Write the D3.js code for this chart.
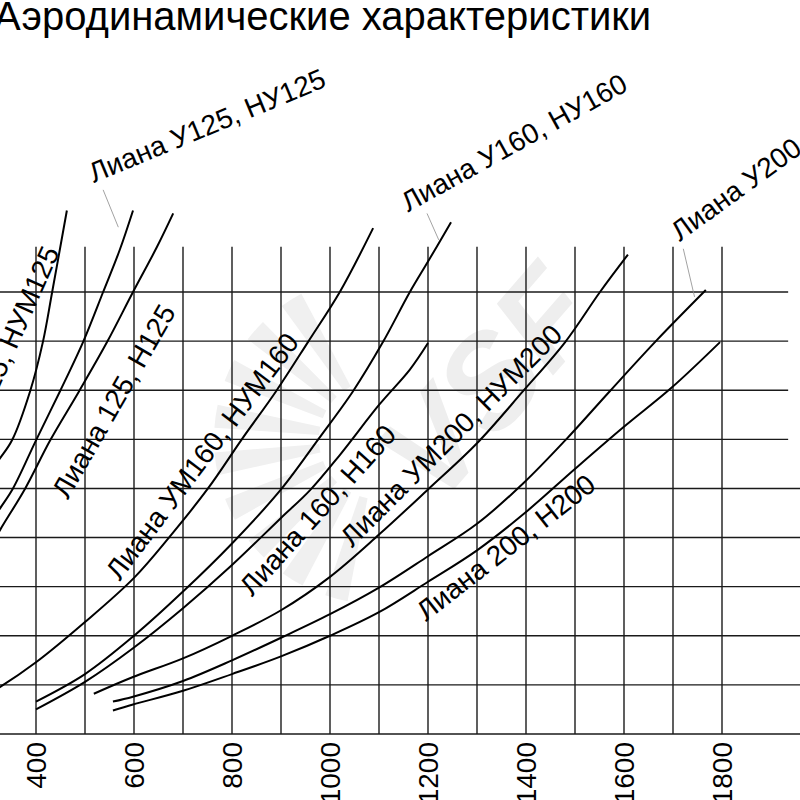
<!DOCTYPE html>
<html>
<head>
<meta charset="utf-8">
<script src="https://cdn.jsdelivr.net/npm/d3@7"></script>
<style>
    body { margin: 0; background: #fff; }
    svg { display: block; font-family: "Liberation Sans", Arial, sans-serif; }
</style>
</head>
<body>
<div id="chart"></div>
<script>

// ---- data (flow m3/h, pressure Pa) ----
const xTicks = [400, 600, 800, 1000, 1200, 1400, 1600, 1800];
const xGridVals = d3.range(300, 1801, 100);
const yGridVals = d3.range(0, 451, 50);

const qUM125 = [306, 327, 351, 388, 414, 433, 463];
const pUM125 = [267, 281, 299, 349, 399, 450, 533];

const qU125 = [306, 327, 353, 400, 449, 496, 537, 571, 598];
const pU125 = [214, 230, 250, 299, 349, 399, 450, 493, 533];

const q125 = [306, 327, 378, 429, 488, 545, 598, 647, 680];
const p125 = [189, 208, 250, 299, 349, 399, 450, 496, 530];

const qUM160 = [306, 327, 400, 500, 600, 673, 751, 820, 890, 955, 1020, 1088];
const pUM160 = [42, 48, 73, 114, 159, 201, 250, 300, 349, 399, 450, 515];

const qU160 = [400, 500, 600, 700, 800, 900, 976, 1047, 1108, 1163, 1200, 1247];
const pU160 = [33, 61, 100, 145, 194, 249, 300, 349, 399, 450, 481, 521];

const q160 = [400, 500, 600, 700, 800, 900, 959, 1020, 1100, 1163, 1200];
const p160 = [25, 53, 88, 128, 172, 220, 248, 284, 335, 371, 398];

const qUM200 = [518, 598, 700, 800, 900, 1000, 1100, 1200, 1300, 1394, 1480, 1551, 1608];
const pUM200 = [41, 58, 77, 100, 126, 160, 203, 249, 296, 349, 399, 450, 488];

const qU200 = [557, 598, 700, 800, 900, 1000, 1100, 1200, 1300, 1394, 1482, 1571, 1667, 1767];
const pU200 = [33, 38, 54, 75, 98, 122, 149, 181, 214, 255, 300, 349, 401, 452];

const q200 = [557, 598, 700, 800, 900, 1000, 1100, 1200, 1300, 1400, 1498, 1598, 1698, 1796];
const p200 = [24, 30, 44, 61, 79, 100, 124, 155, 187, 226, 269, 312, 353, 399];

const seriesQ = [qUM125, qU125, q125, qUM160, qU160, q160, qUM200, qU200, q200];
const seriesP = [pUM125, pU125, p125, pUM160, pU160, p160, pUM200, pU200, p200];

const titleText = "Аэродинамические характеристики";

// labels: text, anchor in chart units, rotation
const labels = [
    {t: "Лиана УМ125, НУМ125", q: 449, p: 491, a: -66, anchor: "end"},
    {t: "Лиана У125, НУ125",   q: 518, p: 561, a: -22.5, anchor: "start"},
    {t: "Лиана 125, Н125",     q: 465, p: 238, a: -60, anchor: "start"},
    {t: "Лиана УМ160, НУМ160", q: 571, p: 155, a: -53, anchor: "start"},
    {t: "Лиана У160, НУ160",   q: 1159, p: 531, a: -29, anchor: "start"},
    {t: "Лиана 160, Н160",     q: 841, p: 139, a: -48, anchor: "start"},
    {t: "Лиана УМ200, НУМ200", q: 1045, p: 189, a: -45, anchor: "start"},
    {t: "Лиана 200, Н200",     q: 1196, p: 114, a: -38, anchor: "start"},
    {t: "Лиана У200, НУ200",   q: 1714, p: 501, a: -36, anchor: "start"}
];

// thin leader lines from the labels to their curves
const leaders = [
    [[537, 554], [568, 516]],
    [[1198, 530], [1222, 503]],
    [[1721, 494], [1744, 445]]
];


const width = 800, height = 800;

const x = d3.scaleLinear().domain([400, 1800]).range([36, 722]);
const y = d3.scaleLinear().domain([0, 450]).range([734, 292]);

const svg = d3.select("#chart").append("svg")
    .attr("width", width)
    .attr("height", height);

// watermark (very faint logo behind the grid)
const wm = svg.append("g").attr("class", "watermark");

const sun = wm.append("g")
    .attr("transform", "translate(" + x(1100) + "," + y(300) + ")");
const rayArc = d3.arc().innerRadius(60).outerRadius(165);
d3.range(9).forEach(function (i) {
    const a0 = -2.95 + i * 0.29;
    sun.append("path")
        .attr("d", rayArc({startAngle: a0, endAngle: a0 + 0.14}))
        .attr("fill", "#f0f0f0");
});

wm.append("text")
    .attr("transform", "translate(" + x(1220) + "," + y(230) + ") rotate(-49)")
    .attr("font-size", 130)
    .attr("font-weight", "bold")
    .attr("font-style", "italic")
    .attr("fill", "#eeeeee")
    .text("VSF");

// grid
const grid = svg.append("g").attr("class", "grid");

grid.selectAll(".vline").data(xGridVals).enter().append("line")
    .attr("class", "vline")
    .attr("x1", d => x(d)).attr("x2", d => x(d))
    .attr("y1", y(0)).attr("y2", y(496))
    .attr("stroke", "#1a1a1a")
    .attr("stroke-width", 1.4);

grid.selectAll(".hline").data(yGridVals).enter().append("line")
    .attr("class", "hline")
    .attr("x1", x(250))
    .attr("x2", d => d >= 300 ? x(1935) : x(1970))
    .attr("y1", d => y(d)).attr("y2", d => y(d))
    .attr("stroke", "#1a1a1a")
    .attr("stroke-width", 1.4);

// x tick labels, rotated (cut at the bottom edge like the source crop)
svg.append("g").attr("class", "x-labels")
    .selectAll("text").data(xTicks).enter().append("text")
    .attr("transform", d => "translate(" + x(d) + "," + (y(0) + 8) + ") rotate(-90)")
    .attr("text-anchor", "end")
    .attr("dy", "0.36em")
    .attr("font-size", 28)
    .attr("fill", "#000")
    .text(d => d);

// curves
const line = d3.line()
    .x(d => x(d[0]))
    .y(d => y(d[1]))
    .curve(d3.curveCatmullRom.alpha(0.5));

svg.append("g").attr("class", "curves")
    .selectAll("path").data(seriesQ.map((qs, i) => qs.map((q, j) => [q, seriesP[i][j]])))
    .enter().append("path")
    .attr("d", line)
    .attr("fill", "none")
    .attr("stroke", "#000")
    .attr("stroke-width", 2);

// leader lines
svg.append("g").attr("class", "leaders")
    .selectAll("line").data(leaders).enter().append("line")
    .attr("x1", d => x(d[0][0])).attr("y1", d => y(d[0][1]))
    .attr("x2", d => x(d[1][0])).attr("y2", d => y(d[1][1]))
    .attr("stroke", "#8a8a8a")
    .attr("stroke-width", 0.8);

// curve labels
svg.append("g").attr("class", "curve-labels")
    .selectAll("text").data(labels).enter().append("text")
    .attr("transform", d => "translate(" + x(d.q) + "," + y(d.p) + ") rotate(" + d.a + ")")
    .attr("text-anchor", d => d.anchor)
    .attr("font-size", 28)
    .attr("fill", "#000")
    .text(d => d.t);

// title
svg.append("text")
    .attr("class", "title")
    .attr("x", -6)
    .attr("y", 30)
    .attr("font-size", 40)
    .attr("fill", "#000")
    .text(titleText);

</script>
</body>
</html>
